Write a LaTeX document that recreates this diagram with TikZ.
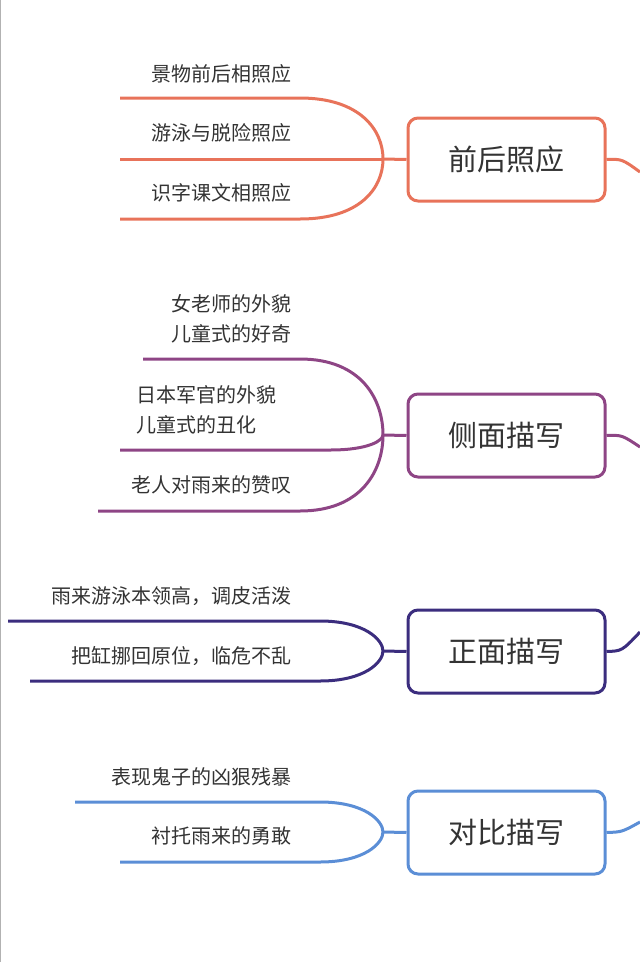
\documentclass[tikz,border=0pt]{standalone}
\usepackage{fontspec}
\newfontfamily\cjk{Noto Sans CJK SC}
\definecolor{cA}{HTML}{E8735A}
\definecolor{cB}{HTML}{8E4585}
\definecolor{cC}{HTML}{3B2D7E}
\definecolor{cD}{HTML}{5B8ED6}
\definecolor{txt}{HTML}{333333}
\tikzset{
  topic/.style={draw=#1,line width=3pt,rounded corners=10pt,minimum width=197pt,minimum height=83pt,fill=white,font=\cjk\fontsize{29}{34}\selectfont,text=txt},
  br/.style={draw=#1,line width=3pt},
  lab/.style={font=\cjk\fontsize{20}{30}\selectfont,text=txt,anchor=east,inner sep=0pt},
}
\begin{document}
\begin{tikzpicture}[x=1pt,y=-1pt]
\useasboundingbox (0,0) rectangle (640,962);
\draw[gray!60,line width=1pt] (0.5,0) -- (0.5,962);
% group 1
\node[topic=cA] (t1) at (506.5,159.5) {前后照应};
\coordinate (j1) at (383,159);
\coordinate (a1) at (120,98); \coordinate (a2) at (120,159); \coordinate (a3) at (120,219);
\draw[br=cA] (a1) -- (300,98) .. controls (360,98) and (383,130) .. (j1);
\draw[br=cA] (a2) -- (j1);
\draw[br=cA] (a3) -- (300,219) .. controls (360,219) and (383,188) .. (j1);
\draw[br=cA] (j1) -- (t1.west);
\coordinate (e1) at (640,172);
\draw[br=cA] (t1.east) .. controls (622,159) .. (e1);
\node[lab] (l1) at (292,74) {景物前后相照应};
\node[lab] (l2) at (292,133) {游泳与脱险照应};
\node[lab] (l3) at (292,193) {识字课文相照应};
% group 2
\node[topic=cB] (t2) at (506.5,435.5) {侧面描写};
\coordinate (j2) at (383,435);
\coordinate (b1) at (143,359); \coordinate (b2) at (120,450); \coordinate (b3) at (98,511);
\draw[br=cB] (b1) -- (300,359) .. controls (362,359) and (383,400) .. (j2);
\draw[br=cB] (b2) -- (330,450) .. controls (370,450) and (383,440) .. (j2);
\draw[br=cB] (b3) -- (300,511) .. controls (362,511) and (383,470) .. (j2);
\draw[br=cB] (j2) -- (t2.west);
\coordinate (e2) at (640,447);
\draw[br=cB] (t2.east) .. controls (622,435) .. (e2);
\node[lab,align=left,anchor=east] (m1) at (292,319) {女老师的外貌\\儿童式的好奇};
\node[lab,align=left,anchor=west] (m2) at (136,410) {日本军官的外貌\\儿童式的丑化};
\node[lab] (m3) at (292,485) {老人对雨来的赞叹};
% group 3
\node[topic=cC] (t3) at (506.5,651.5) {正面描写};
\coordinate (j3) at (383,651);
\coordinate (c1) at (8,621); \coordinate (c2) at (30,681);
\draw[br=cC] (c1) -- (320,621) .. controls (365,621) and (383,640) .. (j3);
\draw[br=cC] (c2) -- (320,681) .. controls (365,681) and (383,662) .. (j3);
\draw[br=cC] (j3) -- (t3.west);
\coordinate (e3) at (640,632);
\draw[br=cC] (t3.east) .. controls (622,651) .. (e3);
\node[lab] (n1) at (292,596) {雨来游泳本领高，调皮活泼};
\node[lab] (n2) at (292,656) {把缸挪回原位，临危不乱};
% group 4
\node[topic=cD] (t4) at (506.5,832.5) {对比描写};
\coordinate (j4) at (383,832);
\coordinate (d1) at (75,802); \coordinate (d2) at (120,862);
\draw[br=cD] (d1) -- (320,802) .. controls (365,802) and (383,821) .. (j4);
\draw[br=cD] (d2) -- (320,862) .. controls (365,862) and (383,843) .. (j4);
\draw[br=cD] (j4) -- (t4.west);
\coordinate (e4) at (640,822);
\draw[br=cD] (t4.east) .. controls (622,832) .. (e4);
\node[lab] (o1) at (292,777) {表现鬼子的凶狠残暴};
\node[lab] (o2) at (292,836) {衬托雨来的勇敢};
\end{tikzpicture}
\end{document}
